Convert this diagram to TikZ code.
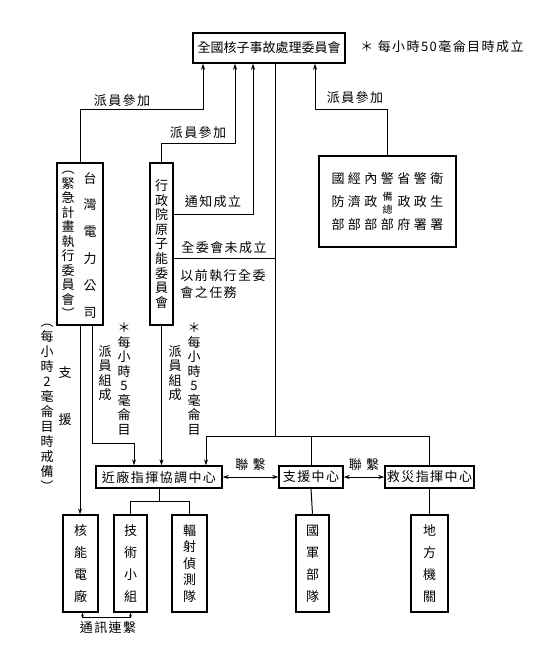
\documentclass[tikz,border=0pt]{standalone}
\usepackage{fontspec}
\newfontfamily\cjk{Noto Sans CJK TC}
\newfontfamily\cjkwide{Noto Sans CJK TC}[LetterSpace=11]
\usetikzlibrary{arrows.meta}

\begin{document}
\begin{tikzpicture}[x=1pt, y=-1pt, line width=1pt,
  >={Stealth[length=6pt,width=4pt]},
  box/.style={draw, line width=1.4pt, inner sep=0pt},
  wide/.style={inner sep=1pt, font=\cjkwide\fontsize{13}{14.5}\selectfont},
  vtext/.style={align=center, inner sep=0pt, font=\cjk\fontsize{13}{14.5}\selectfont}]
\useasboundingbox (0,0) rectangle (554,651);

\node[box, minimum width=152pt, minimum height=30pt, font=\cjk\fontsize{13}{15}\selectfont] (nerc) at (269,48) {全國核子事故處理委員會};
\node[wide] (note) at (442,47) {＊ 每小時50毫侖目時成立};

\node[box, minimum width=46pt, minimum height=162pt] (tpc) at (80,244) {};
\node[vtext, font=\cjk\fontsize{13}{26.8}\selectfont] (tpcname) at (90,245) {台\\灣\\電\\力\\公\\司};
\node[vtext] (tpcsub) at (68,245) {︵\\緊\\急\\計\\畫\\執\\行\\委\\員\\會\\︶};
\node[box, vtext, line width=1.4pt, minimum width=23pt, minimum height=162pt, font=\cjk\fontsize{13}{14.6}\selectfont] (aec) at (161.5,244) {行\\政\\院\\原\\子\\能\\委\\員\\會};

\node[box, minimum width=137pt, minimum height=91pt, font=\cjk\fontsize{13}{23}\selectfont] (gov) at (387.5,201.5) {%
  \setlength{\tabcolsep}{1.75pt}%
  \begin{tabular}{*{7}{c}}
  國&經&內&警&省&警&衛\\
  防&濟&政&\raisebox{6pt}[0pt][0pt]{\fontsize{10}{13}\selectfont\begin{tabular}[t]{@{}c@{}}備\\總\end{tabular}}&政&政&生\\
  部&部&部&部&府&署&署
  \end{tabular}};

\node[wide] (joinL) at (122,101) {派員參加};
\node[wide] (joinM) at (198,133) {派員參加};
\node[wide] (joinR) at (355,98) {派員參加};
\node[wide] (notify) at (213,202) {通知成立};
\node[wide] (pending) at (224,248) {全委會未成立};
\node[wide, align=left, font=\cjkwide\fontsize{13}{17}\selectfont] (duty) at (223,284) {以前執行全委\\會之任務};

\node[vtext, font=\cjk\fontsize{13}{47}\selectfont] (aid) at (65,396) {支\\援};
\node[vtext, font=\cjk\fontsize{13}{15}\selectfont] (alert) at (47,408) {︵\\每\\小\\時\\2\\毫\\侖\\目\\時\\戒\\備\\︶};
\node[vtext] (staffA) at (105,373) {派\\員\\組\\成};
\node[vtext] (doseA) at (124,379) {＊\\每\\小\\時\\5\\毫\\侖\\目};
\node[vtext] (staffB) at (175,373) {派\\員\\組\\成};
\node[vtext] (doseB) at (194,379) {＊\\每\\小\\時\\5\\毫\\侖\\目};

\node[box, wide, line width=1.4pt, minimum width=126pt, minimum height=22pt] (near) at (159,477) {近廠指揮協調中心};
\node[box, wide, line width=1.4pt, minimum width=64pt, minimum height=22pt] (support) at (311,477) {支援中心};
\node[box, wide, line width=1.4pt, minimum width=89pt, minimum height=22pt] (relief) at (429.5,477) {救災指揮中心};

\node[box, vtext, line width=1.4pt, minimum width=35pt, minimum height=97pt, font=\cjk\fontsize{13}{22}\selectfont] (npp) at (80.5,563.5) {核\\能\\電\\廠};
\node[box, vtext, line width=1.4pt, minimum width=33pt, minimum height=97pt, font=\cjk\fontsize{13}{22}\selectfont] (tech) at (130.5,563.5) {技\\術\\小\\組};
\node[box, vtext, line width=1.4pt, minimum width=35pt, minimum height=97pt, font=\cjk\fontsize{13}{16.5}\selectfont] (rad) at (189.5,563.5) {輻\\射\\偵\\測\\隊};
\node[box, vtext, line width=1.4pt, minimum width=33pt, minimum height=97pt, font=\cjk\fontsize{13}{22}\selectfont] (army) at (312.5,563.5) {國\\軍\\部\\隊};
\node[box, vtext, line width=1.4pt, minimum width=37pt, minimum height=97pt, font=\cjk\fontsize{13}{22}\selectfont] (local) at (429.5,563.5) {地\\方\\機\\關};
\node[wide] (comm) at (108,628) {通訊連繫};

\coordinate (hub) at (275,436);

\draw[->] (tpc.north) -- ++(0,-53) -| ([xshift=-66pt]nerc.south);
\draw[->] (aec.north) -- ++(0,-19) -| ([xshift=-34pt]nerc.south);
\draw[->] ([yshift=30pt]aec.east) -| ([xshift=-16pt]nerc.south);
\draw[->] (gov.north) -- ++(0,-46) -| ([xshift=46pt]nerc.south);
\draw ([xshift=6pt]nerc.south) -- (hub);
\draw ([yshift=-14pt]aec.east) -- ([yshift=-14pt]aec.east -| hub);

\draw[->] (tpc.south) -- (tpc.south |- npp.north);
\draw[->] ([xshift=12pt]tpc.south) -- ++(0,118) -| ([xshift=-25pt]near.north);
\draw[->] (aec.south) -- (aec.south |- near.north);
\draw[->] (hub) -| ([xshift=47pt]near.north);
\draw (hub) -| (relief.north);
\draw (support.north) -- (support.north |- hub);

\draw[<->] (near) -- node[wide, above=5pt] (linkA) {聯 繫} (support);
\draw[<->] (support) -- node[wide, above=5pt] (linkB) {聯 繫} (relief);

\draw (near.south) -- ++(0,13) coordinate (split);
\draw (tech.north) |- (split) -| (rad.north);
\draw (support.south) -- (army.north);
\draw (relief.south) -- (local.north);
\draw[<->, >={Stealth[length=4pt,width=3pt]}] ([xshift=2pt]npp.south) -- ++(0,5) -| (tech.south);
\end{tikzpicture}
\end{document}
